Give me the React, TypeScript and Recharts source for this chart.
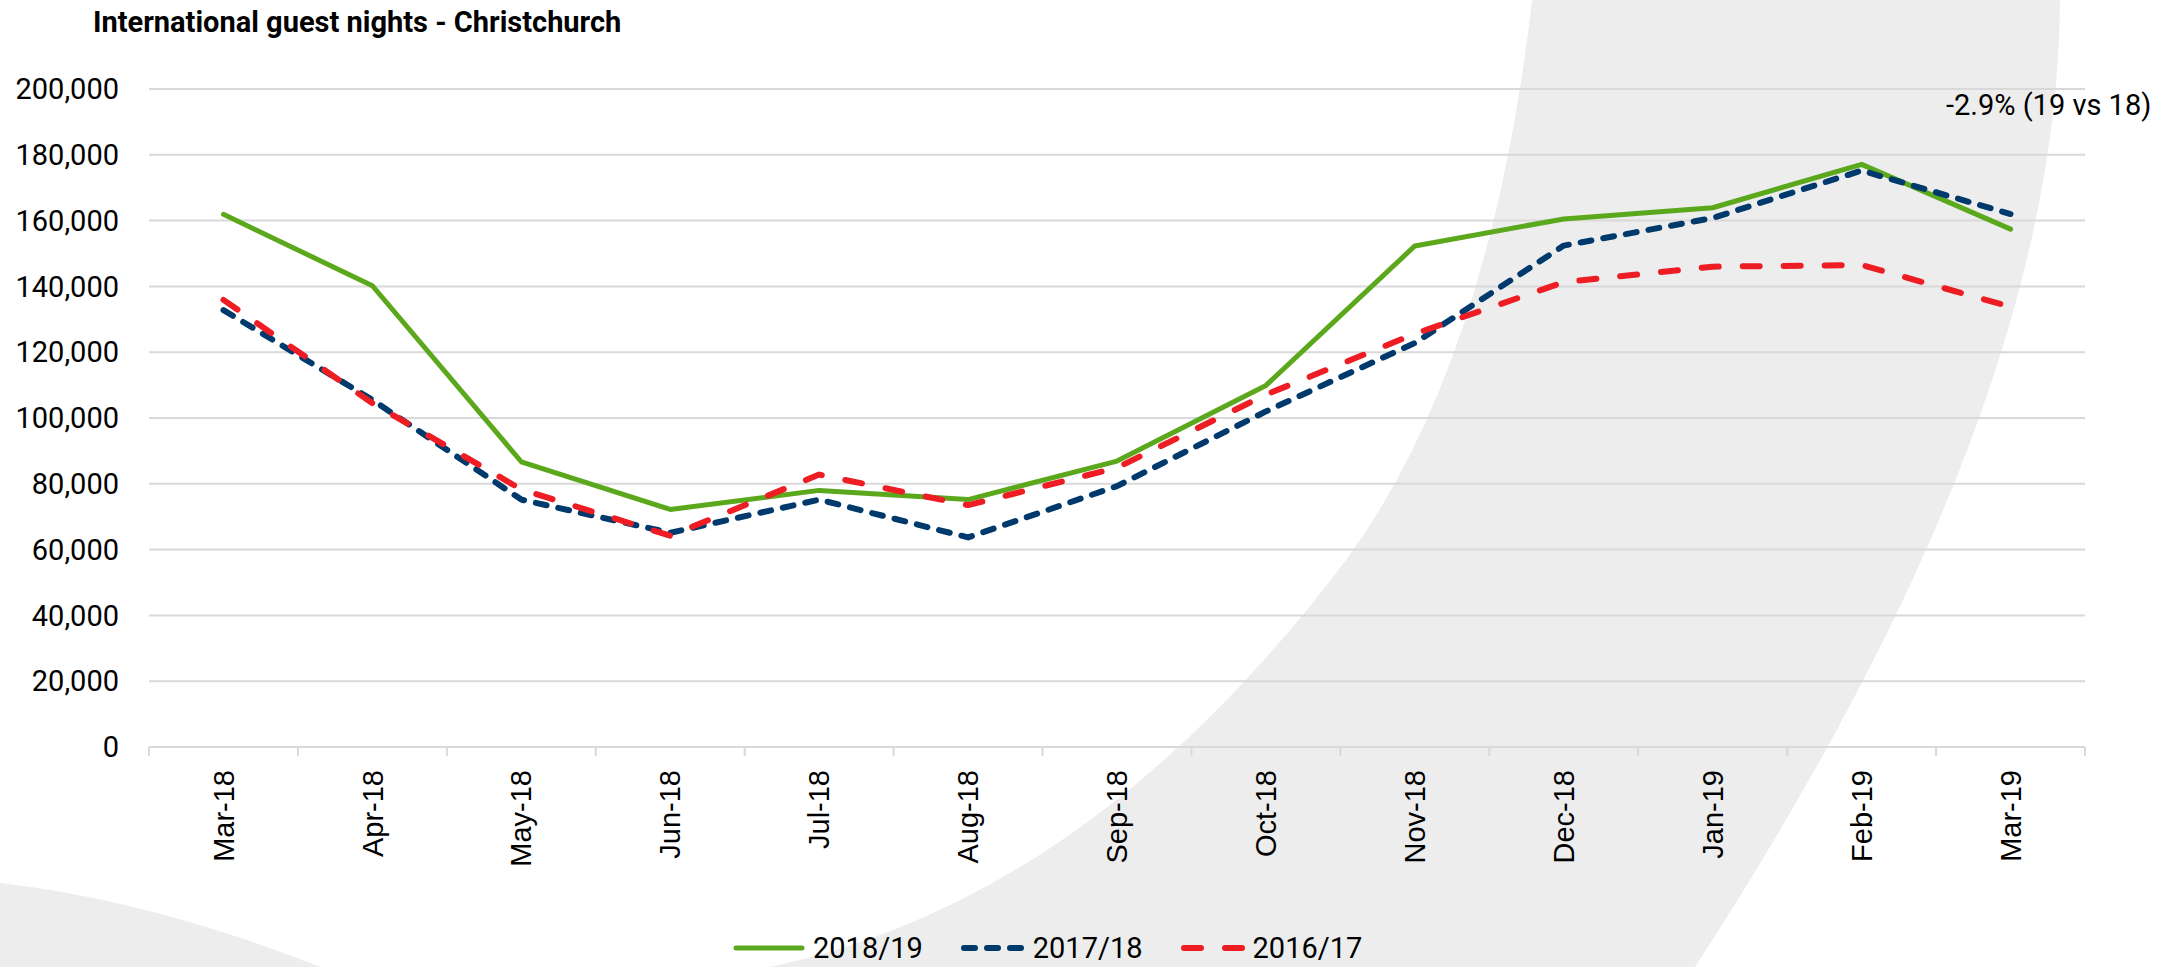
import React from "react";
import { LineChart, Line, XAxis, YAxis, CartesianGrid } from "recharts";

const months = [
	"Mar-18", "Apr-18", "May-18", "Jun-18", "Jul-18", "Aug-18", "Sep-18",
	"Oct-18", "Nov-18", "Dec-18", "Jan-19", "Feb-19", "Mar-19",
];
const nights1819 = [161900, 140200, 86700, 72200, 78000, 75200, 86900, 109900, 152300, 160500, 163900, 177100, 157400];
const nights1718 = [132800, 105500, 75200, 65100, 75200, 63700, 79300, 102000, 122800, 152400, 160800, 175200, 162000];
const nights1617 = [135900, 104500, 78300, 64200, 82800, 73500, 84900, 107100, 125600, 141300, 146000, 146500, 133800];
const yTicks = [0, 20000, 40000, 60000, 80000, 100000, 120000, 140000, 160000, 180000, 200000];

const title = "International guest nights - Christchurch";
const note = "-2.9% (19 vs 18)";

const series = [
	{ key: "s1819", name: "2018/19", values: nights1819, color: "#5ca81d", width: 5, dash: undefined as string | undefined },
	{ key: "s1718", name: "2017/18", values: nights1718, color: "#003a6c", width: 6, dash: "11 12" },
	{ key: "s1617", name: "2016/17", values: nights1617, color: "#ee1d24", width: 6, dash: "17 24" },
];

const data = months.map((month, i) => {
	const row: Record<string, string | number> = { month };
	series.forEach((s) => {
		row[s.key] = s.values[i];
	});
	return row;
});

const W = 2177;
const H = 967;
const margin = { top: 89, right: 92, bottom: 0, left: 0 };
const yAxisWidth = 149;
const xAxisHeight = 220;
const band = (W - margin.left - margin.right - yAxisWidth) / months.length;
const labelGap = 23;
const grey = "#d9d9d9";
const font = "Roboto, 'Open Sans', sans-serif";

// Excel-style ticks sit on the category boundaries, labels in the middle
const MonthTick = (props: any) => {
	const { x, y, payload, index } = props;
	const axisY = y - labelGap;
	const last = index === months.length - 1;
	return (
		<g>
			<line x1={x - band / 2} x2={x - band / 2} y1={axisY} y2={axisY + 9} stroke={grey} strokeWidth={2} />
			{last && (
				<line x1={x + band / 2} x2={x + band / 2} y1={axisY} y2={axisY + 9} stroke={grey} strokeWidth={2} />
			)}
			<text
				transform={`translate(${x},${y}) rotate(-90)`}
				textAnchor="end"
				dy="0.35em"
				fontSize={29}
				fontFamily="'Liberation Sans', Arial, sans-serif"
				fill="#000"
			>
				{payload.value}
			</text>
		</g>
	);
};

// grey swoosh from the slide template
const Backdrop = () => (
	<svg width={W} height={H} style={{ position: "absolute", left: 0, top: 0 }}>
		<path
			d="M1530,0 L2060,0 C2058,300 1920,620 1695,967 L770,967 Q1090,900 1346,560 Q1490,364 1532,0 Z"
			fill="#ededed"
		/>
		<path d="M0,883 Q150,900 321,967 L0,967 Z" fill="#ededed" />
	</svg>
);

const Legend = () => (
	<div
		style={{
			position: "absolute",
			left: 733,
			top: 934,
			height: 28,
			display: "flex",
			alignItems: "center",
			fontFamily: font,
			fontSize: 29,
			lineHeight: "28px",
			color: "#000",
		}}
	>
		{series.map((s) => (
			<div key={s.key} style={{ display: "flex", alignItems: "center", marginRight: 38 }}>
				<svg width={s.dash ? 64 : 72} height={10} style={{ marginRight: 8 }}>
					<line
						x1={3}
						x2={s.dash ? 61 : 69}
						y1={5}
						y2={5}
						stroke={s.color}
						strokeWidth={s.width}
						strokeDasharray={s.dash}
						strokeLinecap="round"
					/>
				</svg>
				<span>{s.name}</span>
			</div>
		))}
	</div>
);

const App = () => {
	return (
		<div
			style={{
				position: "absolute",
				left: 0,
				top: 0,
				width: W,
				height: H,
				background: "#fff",
				overflow: "hidden",
			}}
		>
			<Backdrop />
			<div
				style={{
					position: "absolute",
					left: 93,
					top: 6,
					fontFamily: font,
					fontWeight: 700,
					fontSize: 29,
					lineHeight: "32px",
					color: "#000",
					whiteSpace: "nowrap",
				}}
			>
				{title}
			</div>
			<div
				style={{
					position: "absolute",
					left: 1946,
					top: 89,
					fontFamily: font,
					fontSize: 29,
					lineHeight: "32px",
					color: "#000",
					whiteSpace: "nowrap",
				}}
			>
				{note}
			</div>
			<div style={{ position: "absolute", left: 0, top: 0 }}>
				<LineChart width={W} height={H} data={data} margin={margin}>
					<CartesianGrid vertical={false} stroke={grey} strokeWidth={2} />
					<XAxis
						dataKey="month"
						interval={0}
						height={xAxisHeight}
						padding={{ left: band / 2, right: band / 2 }}
						axisLine={{ stroke: grey, strokeWidth: 2 }}
						tickLine={false}
						tickSize={0}
						tickMargin={labelGap}
						tick={<MonthTick />}
					/>
					<YAxis
						width={yAxisWidth}
						domain={[0, 200000]}
						ticks={yTicks}
						interval={0}
						axisLine={false}
						tickLine={false}
						tickSize={0}
						tickMargin={30}
						tickFormatter={(v: number) => v.toLocaleString("en-US")}
						tick={{ fontSize: 29, fontFamily: font, fill: "#000" }}
					/>
					{series.map((s) => (
						<Line
							key={s.key}
							type="linear"
							dataKey={s.key}
							name={s.name}
							stroke={s.color}
							strokeWidth={s.width}
							strokeDasharray={s.dash}
							strokeLinecap="round"
							strokeLinejoin="round"
							dot={false}
							activeDot={false}
							isAnimationActive={false}
						/>
					))}
				</LineChart>
			</div>
			<Legend />
		</div>
	);
};

export default App;
